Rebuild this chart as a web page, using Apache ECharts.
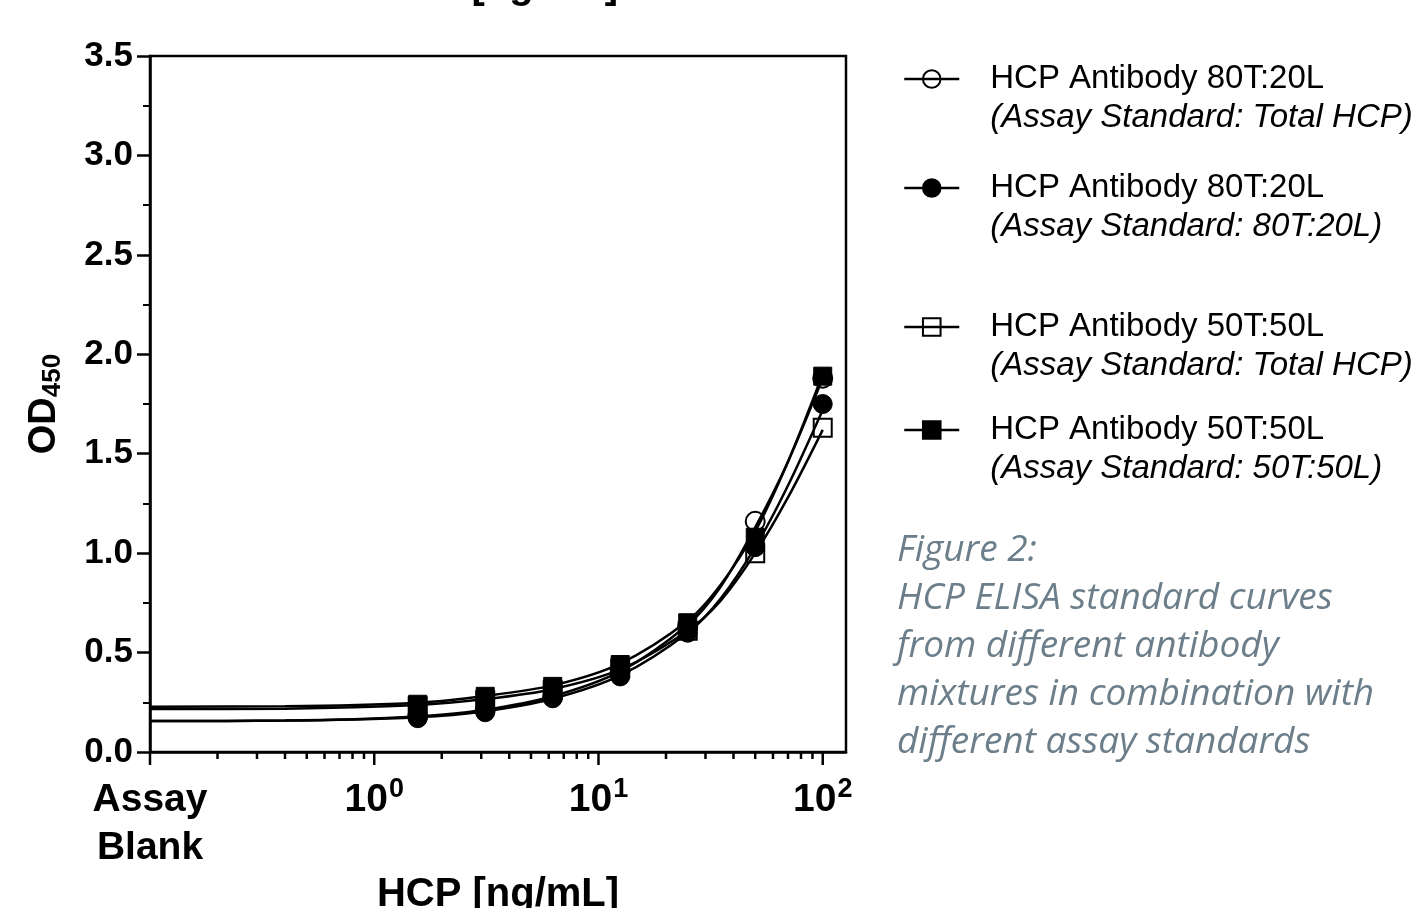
<!DOCTYPE html>
<html><head><meta charset="utf-8">
<script src="https://cdn.jsdelivr.net/npm/echarts@6/dist/echarts.min.js"></script>
<style>html,body{margin:0;padding:0;background:#fff}#c{width:1420px;height:908px}</style>
</head><body><div id="c"></div>
<script>
// ---- data ----
const xPoints = [1.5625, 3.125, 6.25, 12.5, 25, 50, 100];
const openCircle   = [0.18, 0.21, 0.28, 0.41, 0.63, 1.16, 1.88];
const filledCircle = [0.17, 0.20, 0.27, 0.38, 0.60, 1.03, 1.75];
const openSquare   = [0.23, 0.26, 0.31, 0.42, 0.61, 1.00, 1.63];
const filledSquare = [0.24, 0.28, 0.33, 0.44, 0.65, 1.08, 1.89];

const xCurve = [0.1, 0.4, 1.5625, 3.125, 6.25, 12.5, 25, 35, 50, 70, 100];
const curveOpenCircle   = [0.156, 0.158, 0.178, 0.212, 0.280, 0.405, 0.640, 0.83, 1.13, 1.46, 1.88];
const curveFilledCircle = [0.156, 0.158, 0.175, 0.205, 0.268, 0.385, 0.600, 0.77, 1.03, 1.34, 1.72];
const curveOpenSquare   = [0.216, 0.218, 0.236, 0.266, 0.316, 0.415, 0.610, 0.76, 1.00, 1.28, 1.62];
const curveFilledSquare = [0.228, 0.230, 0.248, 0.282, 0.335, 0.445, 0.660, 0.84, 1.11, 1.46, 1.90];

const xMajorTicks = [0.1, 1, 10, 100];
const xMinorTicks = [0.2,0.3,0.4,0.5,0.6,0.7,0.8,0.9, 2,3,4,5,6,7,8,9, 20,30,40,50,60,70,80,90];
const blankLabel = ['Assay', 'Blank'];

const seriesNames = ['HCP Antibody 80T:20L', 'HCP Antibody 80T:20L ', 'HCP Antibody 50T:50L', 'HCP Antibody 50T:50L '];
const seriesSub = ['(Assay Standard: Total HCP)', '(Assay Standard: 80T:20L)', '(Assay Standard: Total HCP)', '(Assay Standard: 50T:50L)'];
const caption = ['Figure 2:', 'HCP ELISA standard curves', 'from different antibody', 'mixtures in combination with', 'different assay standards'];
const xTitle = 'HCP [ng/mL]';

// ---- chart ----
const zip = (xs, ys) => xs.map((x, i) => [x, ys[i]]);
const FONT = '"Liberation Sans", Arial, sans-serif';
const hollow = {color: 'rgba(0,0,0,0)', borderColor: '#000', borderWidth: 2, opacity: 1};
const filled = {color: '#000', borderColor: '#000', borderWidth: 1, opacity: 1};

const defs = [
  {name: seriesNames[0], curve: curveOpenCircle, pts: openCircle, symbol: 'circle', style: hollow},
  {name: seriesNames[1], curve: curveFilledCircle, pts: filledCircle, symbol: 'circle', style: filled},
  {name: seriesNames[2], curve: curveOpenSquare, pts: openSquare, symbol: 'rect', style: hollow},
  {name: seriesNames[3], curve: curveFilledSquare, pts: filledSquare, symbol: 'rect', style: filled}
];

const series = [];
defs.forEach(d => {
  series.push({
    type: 'line', name: d.name, data: zip(xCurve, d.curve),
    smooth: 0.3, symbol: d.symbol, showSymbol: false, symbolSize: 17,
    lineStyle: {color: '#000', width: 2.5}, itemStyle: d.style, z: 2, silent: true
  });
});
defs.forEach((d, i) => {
  series.push({
    type: 'scatter', name: d.name + '_pts', data: zip(xPoints, d.pts),
    symbol: d.symbol, symbolSize: d.symbol === 'rect' ? 18 : 19,
    itemStyle: d.style, z: 3 + i, silent: true
  });
});
series.push({
  type: 'scatter', name: 'majorTicks', data: xMajorTicks.map(v => [v, 0]),
  symbol: 'rect', symbolSize: [2.5, 13], symbolOffset: [0, 6.5], clip: false,
  itemStyle: {color: '#000', opacity: 1}, silent: true, z: 1
});
series.push({
  type: 'scatter', name: 'minorTicks', data: xMinorTicks.map(v => [v, 0]),
  symbol: 'rect', symbolSize: [2.5, 7], symbolOffset: [0, 3.5], clip: false,
  itemStyle: {color: '#000', opacity: 1}, silent: true, z: 1
});

const legendTops = [62.5, 171.5, 310.5, 413.5];
const legends = seriesNames.map((n, i) => ({
  data: [n], left: 903, top: legendTops[i], padding: 0,
  itemWidth: 55, itemHeight: 22, selectedMode: false,
  lineStyle: {width: 2.5, color: '#000'},
  formatter: () => '{a|' + n.trim() + '}\n{b|' + seriesSub[i] + '}',
  textStyle: {
    padding: [39, 0, 0, 26], color: '#000',
    rich: {
      a: {fontFamily: FONT, fontSize: 33, lineHeight: 39, color: '#000'},
      b: {fontFamily: FONT, fontSize: 33, lineHeight: 39, fontStyle: 'italic', color: '#000'}
    }
  }
}));

const option = {
  animation: false,
  backgroundColor: '#fff',
  textStyle: {fontFamily: FONT},
  grid: {left: 150, right: 574, top: 56, bottom: 156, outerBoundsMode: 'none', containLabel: false,
         show: true, borderColor: '#000', borderWidth: 2.5, backgroundColor: 'transparent'},
  legend: legends,
  xAxis: {
    type: 'log', logBase: 10, min: 0.1, max: 127,
    axisLine: {lineStyle: {color: '#000', width: 2.5}},
    axisTick: {show: false}, splitLine: {show: false}, minorTick: {show: false},
    name: xTitle, nameLocation: 'middle', nameGap: 123,
    nameTextStyle: {fontFamily: FONT, fontWeight: 'bold', fontSize: 40, color: '#000'},
    axisLabel: {
      margin: 24, showMaxLabel: false,
      formatter: v => {
        const e = Math.round(Math.log10(v));
        if (Math.abs(Math.log10(v) - e) > 1e-6) return '';
        if (e === -1) return '{t|' + blankLabel[0] + '}\n{t|' + blankLabel[1] + '}';
        return '{m|10}{s|' + e + '}';
      },
      rich: {
        t: {fontFamily: FONT, fontWeight: 'bold', fontSize: 39, lineHeight: 48, color: '#000'},
        m: {fontFamily: FONT, fontWeight: 'bold', fontSize: 39, lineHeight: 48, color: '#000'},
        s: {fontFamily: FONT, fontWeight: 'bold', fontSize: 27, lineHeight: 48, verticalAlign: 'top', padding: [0,0,22,1], color: '#000'}
      }
    }
  },
  yAxis: {
    type: 'value', min: 0, max: 3.5, interval: 0.5,
    axisLine: {show: true, lineStyle: {color: '#000', width: 2.5}},
    axisTick: {show: true, length: 13, lineStyle: {color: '#000', width: 2.5}},
    minorTick: {show: true, splitNumber: 2, length: 7, lineStyle: {color: '#000', width: 2}},
    splitLine: {show: false},
    axisLabel: {margin: 17, fontFamily: FONT, fontWeight: 'bold', fontSize: 35, color: '#000', formatter: v => v.toFixed(1)},
    name: '{a|OD}{b|450}', nameLocation: 'middle', nameGap: 84,
    nameTextStyle: {
      rich: {
        a: {fontFamily: FONT, fontWeight: 'bold', fontSize: 38, lineHeight: 40, verticalAlign: 'top', color: '#000'},
        b: {fontFamily: FONT, fontWeight: 'bold', fontSize: 26, lineHeight: 40, verticalAlign: 'bottom', padding: [16,0,0,0], color: '#000'}
      }
    }
  },
  graphic: [
    {type: 'text', left: 897, top: 526, silent: true,
     style: {text: caption.join('\n'), fontFamily: '"Open Sans", "Noto Sans", sans-serif', fontStyle: 'italic', fontSize: 37, lineHeight: 48, fill: '#6b7e8a'}},
    {type: 'text', x: 497, y: 7, silent: true,
     style: {text: xTitle, align: 'center', verticalAlign: 'bottom', fontFamily: FONT, fontWeight: 'bold', fontSize: 40, fill: '#000'}}
  ],
  series: series
};
const chart = echarts.init(document.getElementById('c'), null, {renderer: 'canvas'});
chart.setOption(option);
</script></body></html>
